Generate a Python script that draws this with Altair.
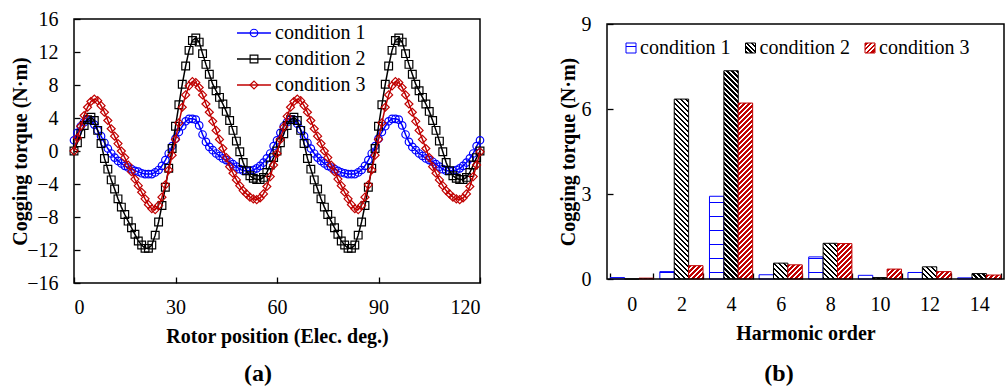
import math
import altair as alt
import pandas as pd

FONT = "Liberation Serif"
conditions = ["condition 1", "condition 2", "condition 3"]
series_colors = ["#0000FF", "#000000", "#C00000"]
marker_shapes = ["circle", "square", "diamond"]
marker_sizes = [56, 64, 110]

# ---------------- (a) cogging torque waveform ----------------
rotor_position = list(range(0, 121))
torque_c1 = [1.3, 2.2, 3.0, 3.5, 3.8, 3.7, 3.2, 2.5, 1.8, 1.0, 0.3, -0.3, -0.8, -1.2, -1.5, -1.8, -2.0, -2.2, -2.4, -2.5,
             -2.7, -2.8, -2.8, -2.8, -2.6, -2.3, -1.8, -1.1, -0.3, 0.6, 1.5, 2.3, 3.0, 3.6, 3.9, 3.9, 3.8, 3.1, 2.0, 1.1,
             0.5, 0.1, -0.3, -0.6, -0.9, -1.1, -1.3, -1.6, -1.9, -2.2, -2.4, -2.4, -2.4, -2.3, -2.1, -1.8, -1.4, -0.9, -0.3, 0.6,
             1.3, 2.2, 3.0, 3.5, 3.8, 3.8, 3.3, 2.6, 1.8, 1.0, 0.3, -0.3, -0.8, -1.2, -1.5, -1.8, -2.0, -2.2, -2.4, -2.6,
             -2.7, -2.8, -2.8, -2.8, -2.6, -2.3, -1.8, -1.1, -0.3, 0.6, 1.5, 2.3, 3.0, 3.6, 3.9, 3.9, 3.8, 3.1, 2.0, 1.1,
             0.5, 0.1, -0.3, -0.6, -0.9, -1.1, -1.3, -1.6, -1.9, -2.2, -2.4, -2.4, -2.4, -2.3, -2.1, -1.8, -1.4, -0.9, -0.3, 0.6,
             1.3]
torque_c2 = [0.0, 1.0, 2.1, 3.1, 3.8, 4.1, 3.7, 2.5, 0.9, -0.9, -2.2, -3.5, -4.6, -5.8, -6.8, -7.7, -8.5, -9.3, -10.1, -10.9,
             -11.4, -11.8, -11.8, -11.4, -10.2, -8.6, -6.6, -4.4, -2.1, 0.3, 3.0, 5.6, 8.1, 10.3, 12.2, 13.4, 13.7, 13.2, 11.8, 10.5,
             9.3, 8.1, 7.3, 6.5, 5.7, 4.8, 3.7, 2.5, 1.2, -0.1, -1.4, -2.4, -3.0, -3.3, -3.45, -3.45, -3.2, -2.6, -1.7, -0.8,
             0.0, 1.0, 2.1, 3.1, 3.8, 4.1, 3.7, 2.5, 0.9, -0.9, -2.2, -3.5, -4.6, -5.8, -6.8, -7.7, -8.5, -9.3, -10.1, -10.9,
             -11.4, -11.8, -11.8, -11.4, -10.2, -8.6, -6.6, -4.4, -2.1, 0.3, 3.0, 5.6, 8.1, 10.3, 12.2, 13.4, 13.7, 13.2, 11.8, 10.5,
             9.3, 8.1, 7.3, 6.5, 5.7, 4.8, 3.7, 2.5, 1.2, -0.1, -1.4, -2.4, -3.0, -3.3, -3.45, -3.45, -3.2, -2.6, -1.7, -0.8,
             0.0]
torque_c3 = [0.0, 1.6, 3.0, 4.3, 5.3, 6.0, 6.3, 6.1, 5.5, 4.7, 3.7, 2.7, 1.8, 0.9, 0.0, -0.8, -1.7, -2.5, -3.4, -4.2,
             -5.0, -5.8, -6.5, -7.0, -7.1, -6.6, -5.6, -4.1, -2.3, -0.5, 1.4, 3.4, 5.3, 6.8, 7.9, 8.4, 8.3, 7.7, 6.8, 5.7,
             4.7, 3.6, 2.5, 1.4, 0.3, -0.8, -1.9, -2.7, -3.5, -4.2, -4.8, -5.2, -5.6, -5.8, -5.9, -5.7, -5.2, -4.3, -3.1, -1.7,
             -0.3, 1.4, 2.9, 4.2, 5.3, 6.0, 6.3, 6.1, 5.5, 4.7, 3.7, 2.7, 1.8, 0.9, 0.0, -0.8, -1.7, -2.5, -3.4, -4.2,
             -5.0, -5.8, -6.5, -7.0, -7.1, -6.6, -5.6, -4.1, -2.3, -0.5, 1.4, 3.4, 5.3, 6.8, 7.9, 8.4, 8.3, 7.7, 6.8, 5.7,
             4.7, 3.6, 2.5, 1.4, 0.3, -0.8, -1.9, -2.7, -3.5, -4.2, -4.8, -5.2, -5.6, -5.8, -5.9, -5.7, -5.2, -4.3, -3.1, -1.7,
             -0.1]

# ---------------- (b) harmonic spectrum ----------------
harmonic_order = ["0", "2", "4", "6", "8", "10", "12", "14"]
harm_c1 = [0.05, 0.26, 2.92, 0.15, 0.78, 0.13, 0.23, 0.04]
harm_c2 = [0.0, 6.35, 7.35, 0.56, 1.26, 0.05, 0.43, 0.19]
harm_c3 = [0.03, 0.47, 6.21, 0.50, 1.25, 0.35, 0.26, 0.14]

W1, H1 = 406, 264
W2, H2 = 397, 260      # right panel cell; its framed plot starts TOP2 px lower
TOP2 = 5
PAD_IN = 0.13
BAR_W = (W2 / (len(harmonic_order) - PAD_IN + PAD_IN)) * (1 - PAD_IN) / 3.0
PX_PER_UNIT = (H2 - TOP2) / 9.0

color_scale = alt.Scale(domain=conditions, range=series_colors)
shape_scale = alt.Scale(domain=conditions, range=marker_shapes)
size_scale = alt.Scale(domain=conditions, range=marker_sizes)

# ---------- hatch patterns as striped gradients ----------
LH = 270.0   # reference length for horizontal lines (px)
LD = 200.0   # reference length for diagonal stripes (px)


def stripe_stops(L, period, start, length, c_on, c_off):
    parts = ["{'offset':0,'color':'%s'}" % c_off]
    k = 0
    while True:
        a = (start + k * period) / L
        b = (start + k * period + length) / L
        if b > 1:
            break
        parts.append("{'offset':%.5f,'color':'%s'}" % (a, c_off))
        parts.append("{'offset':%.5f,'color':'%s'}" % (a, c_on))
        parts.append("{'offset':%.5f,'color':'%s'}" % (b, c_on))
        parts.append("{'offset':%.5f,'color':'%s'}" % (b, c_off))
        k += 1
    parts.append("{'offset':1,'color':'%s'}" % c_off)
    return "[" + ",".join(parts) + "]"


DPER = 5.0 / math.sqrt(2)
STOPS1 = stripe_stops(LH, 14.0, 6.0, 1.3, series_colors[0], "#ffffff")
STOPS2 = stripe_stops(LD, DPER, 0.0, DPER * 0.5, "#000000", "#ffffff")
STOPS3 = stripe_stops(LD, DPER, 0.0, DPER * 0.6, series_colors[2], "#ffffff")


def grad_expr(h, w):
    hh = "(" + h + ")"
    den = "(%g+%s*%s)" % (w * w, hh, hh)
    A = "%g/%s" % (math.sqrt(2) * w * LD, den)
    B = "%g*%s/%s" % (math.sqrt(2) * LD, hh, den)
    g1 = "{'gradient':'linear','x1':0,'y1':1,'x2':0,'y2':1-%g/%s,'stops':%s}" % (LH, hh, STOPS1)
    g2 = "{'gradient':'linear','x1':0,'y1':1,'x2':%s,'y2':1-%s,'stops':%s}" % (A, B, STOPS2)
    g3 = "{'gradient':'linear','x1':0,'y1':0,'x2':%s,'y2':%s,'stops':%s}" % (A, B, STOPS3)
    return ("datum.cond === 'condition 1' ? %s : (datum.cond === 'condition 2' ? %s : %s)"
            % (g1, g2, g3))


COND_INDEX = "indexof(['condition 1','condition 2','condition 3'], datum.cond)"

# ================= left panel =================
df_line = pd.DataFrame({
    "deg": rotor_position * 3,
    "torque": torque_c1 + torque_c2 + torque_c3,
    "cond": [c for c in conditions for _ in rotor_position],
})

x_left = alt.X("deg:Q", scale=alt.Scale(domain=[0, 120], nice=False),
               axis=alt.Axis(values=[0, 30, 60, 90, 120], title="Rotor position (Elec. deg.)",
                             labelPadding=14, titlePadding=9, labelOverlap=False))
y_left = alt.Y("torque:Q", scale=alt.Scale(domain=[-16, 16], nice=False),
               axis=alt.Axis(values=list(range(-16, 17, 4)), title="Cogging torque (N·m)",
                             labelPadding=16, titlePadding=-4, labelOverlap=False))

series_layers = []
for c in conditions:
    base = alt.Chart(df_line).transform_filter(alt.datum.cond == c)
    series_layers.append(base.mark_line(strokeWidth=1.5).encode(
        x=x_left, y=y_left, color=alt.Color("cond:N", scale=color_scale, legend=None)))
    series_layers.append(base.mark_point(filled=False, strokeWidth=1.2, opacity=1).encode(
        x=x_left, y=y_left,
        color=alt.Color("cond:N", scale=color_scale, legend=None),
        shape=alt.Shape("cond:N", scale=shape_scale, legend=None),
        size=alt.Size("cond:N", scale=size_scale, legend=None)))
data_left = alt.layer(*series_layers)

df_leg = pd.DataFrame({"cond": conditions})
leg_y = alt.Y("idx:Q", scale=alt.Scale(domain=[0, 2], range=[14, 66], nice=False, zero=False), axis=None)
leg_base = alt.Chart(df_leg).transform_calculate(idx=COND_INDEX)
leg_rule = leg_base.mark_rule(strokeWidth=1.5).encode(
    x=alt.value(163), x2=alt.value(197), y=leg_y,
    color=alt.Color("cond:N", scale=color_scale, legend=None))
leg_pt = leg_base.mark_point(filled=False, strokeWidth=1.2, opacity=1).encode(
    x=alt.value(180), y=leg_y,
    color=alt.Color("cond:N", scale=color_scale, legend=None),
    shape=alt.Shape("cond:N", scale=shape_scale, legend=None),
    size=alt.Size("cond:N", scale=size_scale, legend=None))
leg_txt = leg_base.mark_text(align="left", baseline="middle", font=FONT, fontSize=20,
                             color="black").encode(x=alt.value(201), y=leg_y, text="cond:N")
cap_a = alt.Chart(pd.DataFrame({"t": ["(a)"]})).mark_text(
    font=FONT, fontSize=24, fontWeight="bold", color="black", baseline="middle").encode(
    x=alt.value(184), y=alt.value(355), text="t:N")
legend_left = alt.layer(leg_rule, leg_pt, leg_txt, cap_a)

left = alt.layer(data_left, legend_left).resolve_scale(y="independent").properties(width=W1, height=H1)

# ================= right panel =================
df_bar = pd.DataFrame({
    "order": harmonic_order * 3,
    "value": harm_c1 + harm_c2 + harm_c3,
    "cond": [c for c in conditions for _ in harmonic_order],
})

bars = alt.Chart(df_bar).transform_calculate(
    grad=grad_expr("max(datum.value*%g, 0.5)" % PX_PER_UNIT, BAR_W)
).mark_bar(strokeWidth=1, opacity=1).encode(
    x=alt.X("order:N", sort=harmonic_order,
            scale=alt.Scale(paddingInner=PAD_IN, paddingOuter=PAD_IN / 2),
            axis=alt.Axis(labelAngle=0, tickBand="extent", title="Harmonic order",
                          labelPadding=15, titlePadding=9)),
    xOffset=alt.XOffset("cond:N", sort=conditions,
                        scale=alt.Scale(domain=conditions, paddingInner=0, paddingOuter=0)),
    y=alt.Y("value:Q", stack=None, scale=alt.Scale(domain=[0, 9], nice=False, range=[H2, TOP2]),
            axis=alt.Axis(values=[0, 3, 6, 9], title="Cogging torque (N·m)",
                          labelPadding=16, titlePadding=3, labelOverlap=False)),
    stroke=alt.Stroke("cond:N", scale=color_scale, legend=None),
    fill=alt.Fill("grad:N", scale=None),
)

sw_x = alt.X("cond:N", scale=alt.Scale(type="point", domain=conditions, range=[24, 263], padding=0), axis=None)
swatch = alt.Chart(df_leg).transform_calculate(grad=grad_expr("10", 10)).mark_point(
    shape="square", size=100, filled=True, strokeWidth=1, opacity=1).encode(
    x=sw_x, y=alt.value(TOP2 + 24),
    stroke=alt.Stroke("cond:N", scale=color_scale, legend=None),
    fill=alt.Fill("grad:N", scale=None))
sw_txt = alt.Chart(df_leg).mark_text(align="left", baseline="middle", font=FONT, fontSize=20,
                                     color="black", dx=9).encode(x=sw_x, y=alt.value(TOP2 + 24), text="cond:N")
cap_b = alt.Chart(pd.DataFrame({"t": ["(b)"]})).mark_text(
    font=FONT, fontSize=24, fontWeight="bold", color="black", baseline="middle").encode(
    x=alt.value(172), y=alt.value(355), text="t:N")
frame_b = alt.Chart(pd.DataFrame({"t": [0]})).mark_rect(
    fillOpacity=0, stroke="black", strokeWidth=1.5).encode(
    x=alt.value(0), x2=alt.value(W2), y=alt.value(TOP2), y2=alt.value(H2))
legend_right = alt.layer(swatch, sw_txt, cap_b, frame_b)

right = alt.layer(bars, legend_right).resolve_scale(x="independent").properties(
    width=W2, height=H2, view=alt.ViewBackground(stroke=None))

chart = alt.hconcat(left, right, spacing=70).properties(
    padding={"left": 9, "top": 8, "right": 0, "bottom": 0},
    background="white",
).configure_axis(
    labelFont=FONT, labelFontSize=20, labelColor="black", labelOverlap=False,
    titleFont=FONT, titleFontSize=20, titleFontWeight="bold", titleColor="black",
    tickColor="black", tickWidth=1.3, tickSize=6, domain=False, grid=False, offset=-6,
).configure_view(stroke="black", strokeWidth=1.5)

chart.save("out.html", embed_options={"renderer": "svg", "actions": False})
